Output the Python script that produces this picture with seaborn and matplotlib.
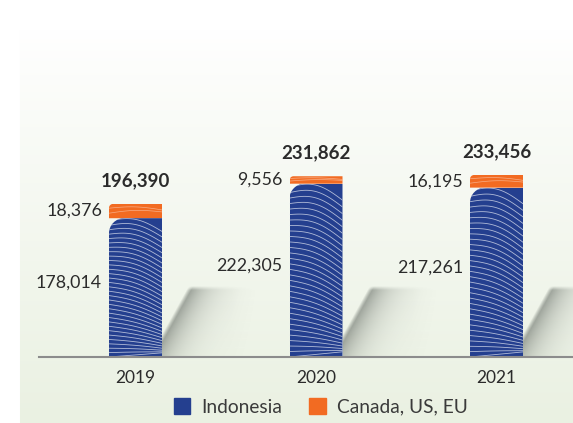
import numpy as np
import matplotlib
matplotlib.use("Agg")
import matplotlib.pyplot as plt
import seaborn as sns
import pandas as pd
from matplotlib.path import Path
from matplotlib.patches import Patch
from matplotlib.colors import LinearSegmentedColormap

# Production volumes by origin
years = ["2019", "2020", "2021"]
indonesia = [178014, 222305, 217261]
canada_us_eu = [18376, 9556, 16195]
totals = [196390, 231862, 233456]
legend_labels = ["Indonesia", "Canada, US, EU"]

BLUE = "#243f8f"
ORANGE = "#f26b22"
TEXT = "#2b2b2b"

sns.set_theme(style="white")
plt.rcParams["font.family"] = ["Lato", "DejaVu Sans"]

W, H = 573, 423
fig = plt.figure(figsize=(W / 100, H / 100), dpi=100)

# soft green backdrop, fading to white toward the top
bg = fig.add_axes([0, 0, 1, 1], zorder=-10)
rows = np.arange(H)[:, None]
t = np.clip((rows - 30) / (H - 30), 0, 1) ** 0.9
top_c = np.array([1.0, 1.0, 1.0])
bot_c = np.array([234, 241, 226]) / 255
img = top_c + (bot_c - top_c) * t[..., None]
img = np.repeat(img, W, axis=1)
img[:, :20] = 1.0
bg.imshow(img, extent=[0, 1, 0, 1], aspect="auto", interpolation="bilinear")
bg.set_xlim(0, 1)
bg.set_ylim(0, 1)
bg.axis("off")

# main axes
AX_L, AX_B = 39, 66
AX_W, AX_H = W - AX_L, 337
ax = fig.add_axes([AX_L / W, AX_B / H, AX_W / W, AX_H / H])
ax.patch.set_alpha(0)
unit = 180.5                       # pixels per category step
x_lo = (AX_L - 135.5) / unit
x_hi = x_lo + AX_W / unit
ymax = max(totals) * AX_H / 182
px_x = 1 / unit
px_y = ymax / AX_H
bar_w = 53 / unit

df = pd.DataFrame({"year": years, "indonesia": indonesia, "total": totals})
sns.barplot(data=df, x="year", y="total", color=ORANGE, width=bar_w,
            saturation=1, linewidth=0, ax=ax, zorder=3)
orange_bars = list(ax.patches)
sns.barplot(data=df, x="year", y="indonesia", color=BLUE, width=bar_w,
            saturation=1, linewidth=0, ax=ax, zorder=4)
blue_bars = list(ax.patches)[len(orange_bars):]

shade = np.array([95, 102, 95]) / 255
shadow_cmap = LinearSegmentedColormap.from_list(
    "shadow", [(*shade, 0.0), (*shade, 1.0)])


def rounded_column(x0, w, y0, y1, rx, ry):
    k = 0.45
    verts = [(x0, y0), (x0, y1 - ry), (x0, y1 - ry * k), (x0 + rx * k, y1),
             (x0 + rx, y1), (x0 + w, y1), (x0 + w, y0), (x0, y0)]
    codes = [Path.MOVETO, Path.LINETO, Path.CURVE4, Path.CURVE4, Path.CURVE4,
             Path.LINETO, Path.LINETO, Path.CLOSEPOLY]
    return Path(verts, codes)


for i, (pb, po) in enumerate(zip(blue_bars, orange_bars)):
    x0, w = pb.get_x(), pb.get_width()
    h = pb.get_height()
    blue_path = rounded_column(x0, w, 0, h, 15 * px_x, 15 * px_y)
    pb.set_clip_path(blue_path, ax.transData)
    orange_path = rounded_column(x0, w, h, po.get_height(), 4 * px_x, 4 * px_y)
    po.set_clip_path(orange_path, ax.transData)

    # decorative light strands across the columns
    xs = np.linspace(x0, x0 + w, 60)
    tt = (xs - x0) / w
    for f in np.linspace(0.0, 0.98, 32):
        fr = np.clip(0.9 * f ** 1.4 + 0.03, 0, 1)
        ys = h * (f + (fr - f) * tt + 0.05 * f * np.sin(np.pi * tt))
        ln, = ax.plot(xs, ys, color="#dfe4f0", lw=0.6, alpha=0.75, zorder=5)
        ln.set_clip_path(blue_path, ax.transData)
    oh = po.get_height() - h
    for f in (0.35, 0.7):
        ys = h + oh * (f + (0.5 - f) * 0.6 * tt + 0.15 * np.sin(np.pi * tt))
        ln, = ax.plot(xs, ys, color="white", lw=0.5, alpha=0.45, zorder=5)
        ln.set_clip_path(orange_path, ax.transData)

    # cast shadow to the right of each column, fading away from its edge
    xr = x0 + w
    U, V = 100, 72
    uu, vv = np.meshgrid(np.arange(U) + 0.5, (np.arange(V) + 0.5)[::-1])
    d = uu - (vv - 18) * 28 / 50
    a = 0.62 * np.exp(-np.clip(d, 0, None) / 20)
    a *= np.clip(d / 5 + 0.5, 0, 1)
    a *= np.clip((68 - vv) / 4 + 0.5, 0, 1)
    a *= np.clip((U - uu) / 30, 0, 1)
    ax.imshow(a, cmap=shadow_cmap, vmin=0, vmax=1,
              extent=[xr, xr + U * px_x, 0, V * px_y], aspect="auto",
              zorder=2, interpolation="bilinear")

# value labels
to_pt = 72 / 100
for i in range(len(years)):
    xl = i - bar_w / 2
    ax.annotate(f"{totals[i]:,}", (i, totals[i]), xytext=(0, 23 * to_pt),
                textcoords="offset points", ha="center", va="center",
                fontsize=13.5, fontweight="bold", color=TEXT, zorder=6)
    ax.annotate(f"{canada_us_eu[i]:,}", (xl, indonesia[i] + canada_us_eu[i] / 2),
                xytext=(-7 * to_pt, 0), textcoords="offset points",
                ha="right", va="center", fontsize=12.8, color=TEXT, zorder=6)
    ax.annotate(f"{indonesia[i]:,}", (xl, indonesia[i] / 2),
                xytext=(-7 * to_pt, 5 * to_pt), textcoords="offset points",
                ha="right", va="center", fontsize=12.8, color=TEXT, zorder=6)

ax.set_xlim(x_lo, x_hi)
ax.set_ylim(0, ymax)
ax.set_xticks(range(len(years)), years)
ax.set_yticks([])
ax.set_xlabel("")
ax.set_ylabel("")
ax.tick_params(axis="x", length=0, pad=9, labelsize=12.5, colors=TEXT)
for s in ("left", "top", "right"):
    ax.spines[s].set_visible(False)
ax.spines["bottom"].set_color("#8c8c8c")
ax.spines["bottom"].set_linewidth(1.5)
ax.spines["bottom"].set_zorder(7)

handles = [Patch(color=BLUE, label=legend_labels[0]),
           Patch(color=ORANGE, label=legend_labels[1])]
fig.legend(handles=handles, loc="center", bbox_to_anchor=(321 / W, 16 / H),
           ncol=2, frameon=False, fontsize=13.8, handlelength=0.85,
           handleheight=0.85, handletextpad=0.6, columnspacing=1.4,
           labelcolor="#3a3a3a")

fig.savefig("out.png", dpi=100)
